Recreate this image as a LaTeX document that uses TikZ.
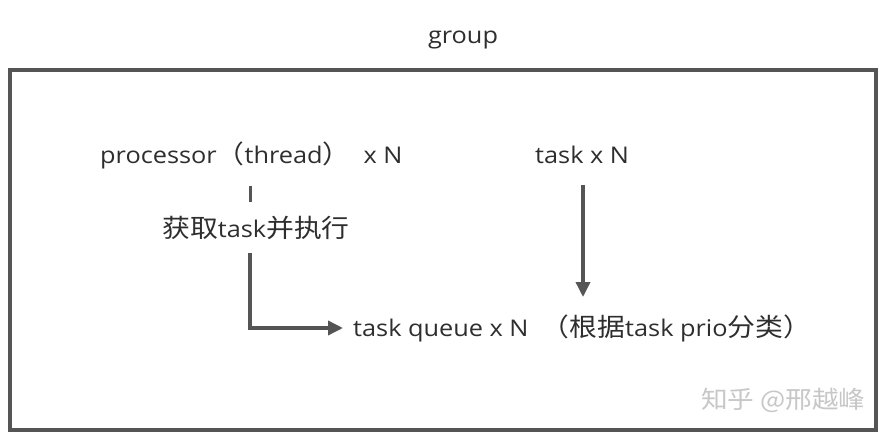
\documentclass[tikz,border=0pt]{standalone}
\usepackage{fontspec}
\setmainfont[FakeStretch=1.1]{Open Sans}
\newfontfamily\cjk[FakeStretch=1.1, Scale=1.1]{Noto Sans CJK SC}
\usetikzlibrary{arrows.meta}
\definecolor{linegray}{HTML}{555555}
\definecolor{txt}{HTML}{2E2E2E}
\tikzset{
  lbl/.style={font=\fontsize{23}{27}\selectfont, text=txt, inner sep=0pt, anchor=west},
  conn/.style={draw=linegray, line width=3.5pt},
  arr/.style={conn, -{Triangle[length=15pt,width=14pt]}},
}
\begin{document}
\begin{tikzpicture}[x=1pt,y=-1pt]
\useasboundingbox (0,0) rectangle (890,435);
\fill[white] (0,0) rectangle (890,435);
\draw[draw=linegray, line width=4pt] (10,70) rectangle (876,430);
\node[lbl, anchor=center] (group) at (463,40) {group};
\node[lbl] (proc) at (100,155) {processor{\cjk（}thread{\cjk）} \ x N};
\node[lbl] (task) at (535,155) {task x N};
\node[lbl] (fetch) at (162,228) {{\cjk 获取}task{\cjk 并执行}};
\node[lbl] (queue) at (353,328) {task queue x N \ {\cjk（根据}task prio{\cjk 分类）}};
\node[lbl, text=black!22, font=\cjk\fontsize{22}{26}\selectfont] (wm) at (701,400) {知乎 @邢越峰};
\coordinate (t1) at (250,186);
\coordinate (t2) at (250,202);
\coordinate (t3) at (250,253);
\draw[conn, line width=3pt] (t1) -- (t2);
\draw[arr] (t3) |- ([xshift=-10pt]queue.west);
\draw[arr] (583,185) -- (583,297);
\end{tikzpicture}
\end{document}
